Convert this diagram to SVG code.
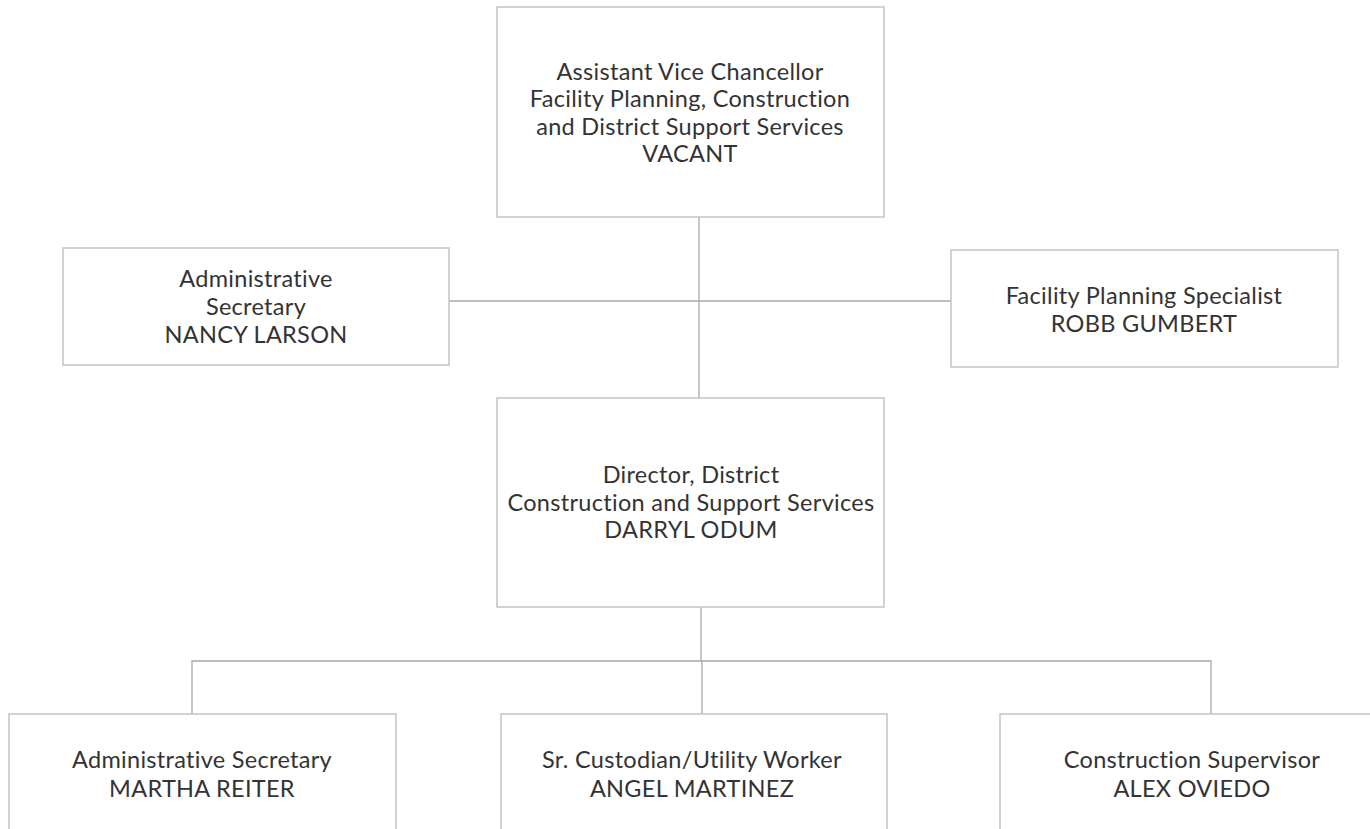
<svg xmlns="http://www.w3.org/2000/svg" width="1370" height="829" viewBox="0 0 1370 829">
  <style>
    .box { fill: #ffffff; stroke: #c4c4c4; stroke-width: 1.5; }
    .link { fill: none; stroke: #a8a8a8; stroke-width: 1.3; }
    text { font-family: Lato, "Liberation Sans", sans-serif; font-size: 23.5px; letter-spacing: 0.3px; font-variant-ligatures: none; fill: #333333; text-anchor: middle; }
  </style>
  <rect x="0" y="0" width="1370" height="829" fill="#ffffff"/>

  <!-- reporting lines -->
  <g id="connectors">
    <line class="link" x1="699" y1="217" x2="699" y2="398"/>
    <line class="link" x1="449" y1="301" x2="951" y2="301"/>
    <line class="link" x1="701" y1="607" x2="701" y2="661"/>
    <polyline class="link" points="192,714 192,661 1211,661 1211,714"/>
    <line class="link" x1="702" y1="661" x2="702" y2="714"/>
  </g>

  <g id="avc">
    <rect class="box" x="497" y="7" width="387" height="210"/>
    <text x="690" y="80">Assistant Vice Chancellor</text>
    <text x="690" y="107">Facility Planning, Construction</text>
    <text x="690" y="135">and District Support Services</text>
    <text x="690" y="162">VACANT</text>
  </g>

  <g id="admin-sec-1">
    <rect class="box" x="63" y="248" width="386" height="117"/>
    <text x="256" y="287">Administrative</text>
    <text x="256" y="315">Secretary</text>
    <text x="256" y="343">NANCY LARSON</text>
  </g>

  <g id="planning-specialist">
    <rect class="box" x="951" y="250" width="387" height="117"/>
    <text x="1144" y="304">Facility Planning Specialist</text>
    <text x="1144" y="332">ROBB GUMBERT</text>
  </g>

  <g id="director">
    <rect class="box" x="497" y="398" width="387" height="209"/>
    <text x="691" y="483">Director, District</text>
    <text x="691" y="511">Construction and Support Services</text>
    <text x="691" y="538">DARRYL ODUM</text>
  </g>

  <g id="admin-sec-2">
    <rect class="box" x="9" y="714" width="387" height="130"/>
    <text x="202" y="768">Administrative Secretary</text>
    <text x="202" y="797">MARTHA REITER</text>
  </g>

  <g id="custodian">
    <rect class="box" x="501" y="714" width="386" height="130"/>
    <text x="692" y="768">Sr. Custodian/Utility Worker</text>
    <text x="692" y="797">ANGEL MARTINEZ</text>
  </g>

  <g id="construction-supervisor">
    <rect class="box" x="1000" y="714" width="386" height="130"/>
    <text x="1192" y="768">Construction Supervisor</text>
    <text x="1192" y="797">ALEX OVIEDO</text>
  </g>
</svg>
